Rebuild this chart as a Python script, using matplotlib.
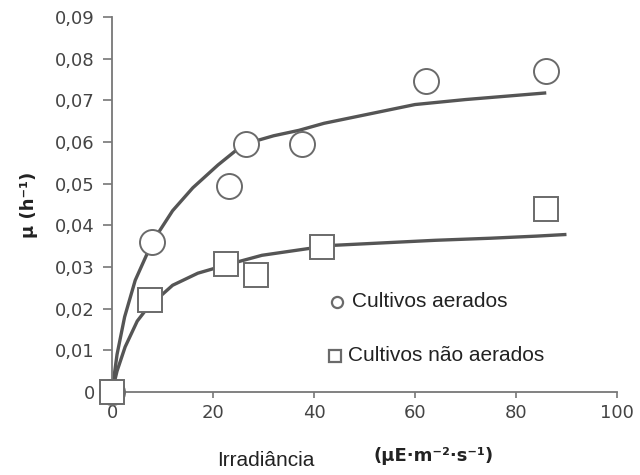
import matplotlib
matplotlib.use("Agg")
import matplotlib.pyplot as plt

# Measured growth rates (h^-1) versus irradiance
irr_aerated = [0, 7.9, 23.2, 26.5, 37.6, 62.2, 85.9]
mu_aerated = [0.0, 0.036, 0.0495, 0.0595, 0.0596, 0.0746, 0.077]

irr_static = [0, 7.5, 22.6, 28.5, 41.6, 86.0]
mu_static = [0.0, 0.022, 0.0306, 0.028, 0.0347, 0.044]

# Fitted saturation curves
fit_x_aerated = [0, 1, 2.5, 4.6, 8, 12, 16, 21, 26, 32, 37, 42, 50, 60, 70, 80, 86]
fit_y_aerated = [0.0, 0.009, 0.018, 0.0268, 0.036, 0.0435, 0.049, 0.0545, 0.0594,
                 0.0615, 0.0628, 0.0645, 0.0665, 0.069, 0.0702, 0.0712, 0.0718]

fit_x_static = [0, 1, 2.6, 5, 7.1, 12, 17, 22.4, 29.7, 38.8, 44, 54, 64, 75, 84, 90]
fit_y_static = [0.0, 0.005, 0.0108, 0.017, 0.0203, 0.0256, 0.0285, 0.0304, 0.0328,
                0.0344, 0.0352, 0.0358, 0.0364, 0.0369, 0.0374, 0.0378]

x_ticks = [0, 20, 40, 60, 80, 100]
y_ticks = [0, 0.01, 0.02, 0.03, 0.04, 0.05, 0.06, 0.07, 0.08, 0.09]
y_tick_labels = ["0", "0,01", "0,02", "0,03", "0,04", "0,05", "0,06", "0,07", "0,08", "0,09"]

narrow = ["Liberation Sans Narrow", "Liberation Sans", "DejaVu Sans"]
line_col = "#555555"
edge_col = "#6a6a6a"

fig = plt.figure(figsize=(6.4, 4.75), dpi=100)
ax = fig.add_axes([0.175, 0.175, 0.789, 0.789])

ax.plot(fit_x_aerated, fit_y_aerated, color=line_col, lw=2.4, solid_capstyle="butt", zorder=2)
ax.plot(fit_x_static, fit_y_static, color=line_col, lw=2.4, solid_capstyle="butt", zorder=2)

ax.plot(irr_aerated, mu_aerated, ls="none", marker="o", ms=18, mfc="white",
        mec=edge_col, mew=1.4, clip_on=False, zorder=3)
ax.plot(irr_static, mu_static, ls="none", marker="s", ms=17, mfc="white",
        mec=edge_col, mew=1.4, clip_on=False, zorder=3)

ax.set_xlim(0, 100)
ax.set_ylim(0, 0.09)
ax.set_xticks(x_ticks)
ax.set_xticklabels([str(v) for v in x_ticks])
ax.set_yticks(y_ticks)
ax.set_yticklabels(y_tick_labels)

for side in ("top", "right"):
    ax.spines[side].set_visible(False)
for side in ("left", "bottom"):
    ax.spines[side].set_color("#777777")
    ax.spines[side].set_linewidth(1.3)

ax.tick_params(axis="y", direction="out", length=6.5, width=1.2, color="#777777",
               labelsize=13, labelcolor="#444444", pad=6)
ax.tick_params(axis="x", direction="out", length=4, width=1.2, color="#777777",
               labelsize=13, labelcolor="#444444", pad=5)

ax.set_ylabel("µ (h⁻¹)", fontsize=13, fontweight="bold", color="#222222", labelpad=12)

# Legend drawn as marker + label pairs inside the plot
ax.plot([44.5], [0.0217], ls="none", marker="o", ms=8, mfc="white", mec=edge_col, mew=1.6)
ax.text(47.5, 0.0217, "Cultivos aerados", family=narrow, fontsize=15, color="#222222",
        va="center", ha="left")
ax.plot([44.2], [0.0087], ls="none", marker="s", ms=8, mfc="white", mec=edge_col, mew=1.6)
ax.text(46.8, 0.0087, "Cultivos não aerados", family=narrow, fontsize=15, color="#222222",
        va="center", ha="left")

fig.text(0.339, 0.019, "Irradiância", family=narrow, fontsize=15, color="#222222",
         ha="left", va="baseline")
fig.text(0.583, 0.03, "(µE·m⁻²·s⁻¹)", family="DejaVu Sans", fontweight="bold",
         fontsize=13, color="#222222", ha="left", va="baseline")

fig.savefig("out.png", dpi=100)
